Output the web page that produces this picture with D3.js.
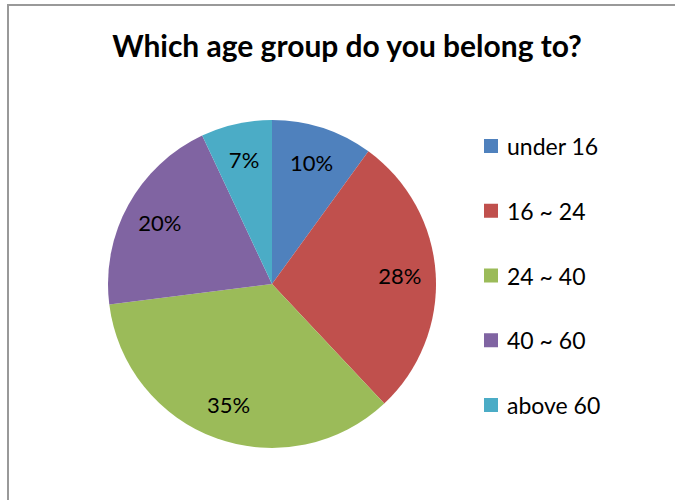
<!DOCTYPE html>
<html>
<head>
<meta charset="utf-8">
<script src="https://cdn.jsdelivr.net/npm/d3@7"></script>
<style>
  html, body { margin: 0; padding: 0; background: #fff; }
  svg { display: block; font-family: Lato, "Open Sans", sans-serif; }
</style>
</head>
<body>
<svg id="chart" width="675" height="500"></svg>
<script>
// data
var categories = ["under 16", "16 ~ 24", "24 ~ 40", "40 ~ 60", "above 60"]
var values = [10, 28, 35, 20, 7]
var colors = ["#4F81BD", "#C0504D", "#9BBB59", "#8064A2", "#4BACC6"]
var title = "Which age group do you belong to?"

var svg = d3.select("#chart")
var width = 675, height = 500

// frame (only top and left edges are in view)
svg.append("path")
   .attr("d", "M8,500 L8,5 L675,5")
   .attr("fill", "none")
   .attr("stroke", "#999")
   .attr("stroke-width", 2)

// title
var titleText = svg.append("text")
   .attr("x", 347)
   .attr("y", 57)
   .attr("text-anchor", "middle")
   .attr("font-weight", "bold")
   .attr("font-size", 26)
   .attr("fill", "#000")
   .text(title)
var tw = titleText.node().getComputedTextLength()
if (tw > 0) titleText.attr("font-size", 26 * 470 / tw)

// pie
var cx = 272, cy = 284, radius = 164
var total = d3.sum(values)
var color = d3.scaleOrdinal().domain(categories).range(colors)

var pie = d3.pie().sort(null).value(function (d) { return d.value })
var arcs = pie(categories.map(function (c, i) { return { name: c, value: values[i] } }))

var arc = d3.arc().innerRadius(0).outerRadius(radius)
var labelArc = d3.arc().innerRadius(128).outerRadius(128)

var g = svg.append("g").attr("transform", "translate(" + cx + "," + cy + ")")

g.selectAll("path.slice")
 .data(arcs)
 .enter().append("path")
 .attr("class", "slice")
 .attr("d", arc)
 .attr("fill", function (d) { return color(d.data.name) })

g.selectAll("text.pct")
 .data(arcs)
 .enter().append("text")
 .attr("class", "pct")
 .attr("transform", function (d) { return "translate(" + labelArc.centroid(d) + ")" })
 .attr("text-anchor", "middle")
 .attr("dominant-baseline", "central")
 .attr("font-size", 22)
 .attr("fill", "#000")
 .text(function (d) { return Math.round(d.value / total * 100) + "%" })

// legend
var legendY = d3.scalePoint().domain(categories).range([146, 405])

var legend = svg.selectAll("g.legend")
   .data(categories)
   .enter().append("g")
   .attr("class", "legend")
   .attr("transform", function (d) { return "translate(484," + legendY(d) + ")" })

legend.append("rect")
      .attr("x", 0)
      .attr("y", -7)
      .attr("width", 14)
      .attr("height", 14)
      .attr("fill", function (d) { return color(d) })

legend.append("text")
      .attr("x", 23)
      .attr("y", 0)
      .attr("dominant-baseline", "central")
      .attr("font-size", 23)
      .attr("fill", "#000")
      .text(function (d) { return d })
</script>
</body>
</html>
